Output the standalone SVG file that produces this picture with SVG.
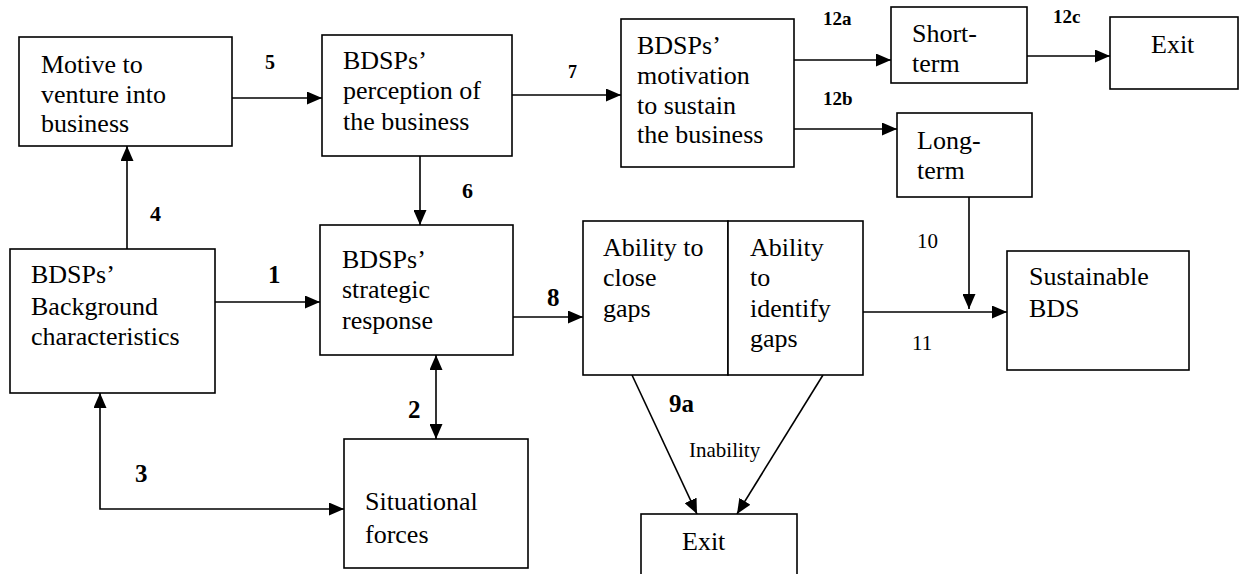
<svg xmlns="http://www.w3.org/2000/svg" width="1241" height="574" viewBox="0 0 1241 574">
  <style>
    .box { fill: #ffffff; stroke: #000000; stroke-width: 1.6; }
    text { font-family: 'Liberation Serif', Tinos, 'Times New Roman', 'DejaVu Serif', serif; fill: #000000; }
    .t { font-size: 26px; }
    .lbl { font-weight: bold; }
    .note { font-size: 21px; }
    .wire { fill: none; stroke: #000000; stroke-width: 1.6; }
    .one { marker-end: url(#head); }
    .two { marker-start: url(#head); marker-end: url(#head); }
  </style>
  <defs>
    <marker id="head" markerUnits="userSpaceOnUse" markerWidth="15" markerHeight="13" refX="15" refY="6.5" orient="auto-start-reverse">
      <path d="M0,0 L15,6.5 L0,13 z" fill="#000000"/>
    </marker>
  </defs>
  <rect width="1241" height="574" fill="#ffffff"/>

  <!-- connectors -->
  <g id="connectors">
    <path class="wire one" d="M232,98 H322"/>
    <path class="wire one" d="M512,95 H621"/>
    <path class="wire one" d="M794,60 H891"/>
    <path class="wire one" d="M794,129 H897"/>
    <path class="wire one" d="M1027,56 H1110"/>
    <path class="wire one" d="M127,249 V146"/>
    <path class="wire one" d="M420,156 V225"/>
    <path class="wire one" d="M215,302 H320"/>
    <path class="wire one" d="M513,317 H583"/>
    <path class="wire one" d="M863,312 H1007"/>
    <path class="wire one" d="M969,197 V309"/>
    <path class="wire two" d="M436,355 V439"/>
    <path class="wire two" d="M100,393 V509 H344"/>
    <path class="wire one" d="M632,375 L697,514"/>
    <path class="wire one" d="M823,375 L737,514"/>
  </g>

  <!-- connector labels -->
  <g id="labels">
    <text class="lbl" x="265" y="69" font-size="20">5</text>
    <text class="lbl" x="568" y="78" font-size="18">7</text>
    <text class="lbl" x="823" y="25" font-size="19">12a</text>
    <text class="lbl" x="823" y="105" font-size="19">12b</text>
    <text class="lbl" x="1053" y="23" font-size="19">12c</text>
    <text class="lbl" x="150" y="221" font-size="22">4</text>
    <text class="lbl" x="462" y="198" font-size="22">6</text>
    <text class="lbl" x="268" y="283" font-size="25">1</text>
    <text class="lbl" x="547" y="306" font-size="25">8</text>
    <text class="lbl" x="408" y="418" font-size="25">2</text>
    <text class="lbl" x="135" y="482" font-size="25">3</text>
    <text class="lbl" x="669" y="412" font-size="25">9a</text>
    <text class="note" x="689" y="457">Inability</text>
    <text class="note" x="917" y="248">10</text>
    <text class="note" x="912" y="350">11</text>
  </g>

  <g id="motive">
    <rect class="box" x="19" y="37" width="213" height="109"/>
    <text class="t" x="41" y="73">Motive to</text>
    <text class="t" x="41" y="103">venture into</text>
    <text class="t" x="41" y="132">business</text>
  </g>

  <g id="perception">
    <rect class="box" x="322" y="35" width="190" height="121"/>
    <text class="t" x="343" y="69">BDSPs’</text>
    <text class="t" x="343" y="99">perception of</text>
    <text class="t" x="343" y="130">the business</text>
  </g>

  <g id="motivation">
    <rect class="box" x="621" y="19" width="173" height="148"/>
    <text class="t" x="637" y="54">BDSPs’</text>
    <text class="t" x="637" y="84">motivation</text>
    <text class="t" x="637" y="114">to sustain</text>
    <text class="t" x="637" y="143">the business</text>
  </g>

  <g id="short-term">
    <rect class="box" x="891" y="7" width="136" height="76"/>
    <text class="t" x="912" y="42">Short-</text>
    <text class="t" x="912" y="72">term</text>
  </g>

  <g id="exit-top">
    <rect class="box" x="1110" y="17" width="128" height="72"/>
    <text class="t" x="1151" y="53">Exit</text>
  </g>

  <g id="long-term">
    <rect class="box" x="897" y="113" width="135" height="84"/>
    <text class="t" x="917" y="149">Long-</text>
    <text class="t" x="917" y="179">term</text>
  </g>

  <g id="background">
    <rect class="box" x="10" y="249" width="205" height="144"/>
    <text class="t" x="31" y="283">BDSPs’</text>
    <text class="t" x="31" y="315">Background</text>
    <text class="t" x="31" y="345">characteristics</text>
  </g>

  <g id="strategic">
    <rect class="box" x="320" y="225" width="193" height="130"/>
    <text class="t" x="342" y="268">BDSPs’</text>
    <text class="t" x="342" y="298">strategic</text>
    <text class="t" x="342" y="329">response</text>
  </g>

  <g id="close-gaps">
    <rect class="box" x="583" y="221" width="145" height="154"/>
    <text class="t" x="603" y="256">Ability to</text>
    <text class="t" x="603" y="286">close</text>
    <text class="t" x="603" y="317">gaps</text>
  </g>

  <g id="identify-gaps">
    <rect class="box" x="728" y="221" width="135" height="154"/>
    <text class="t" x="750" y="256">Ability</text>
    <text class="t" x="750" y="286">to</text>
    <text class="t" x="750" y="317">identify</text>
    <text class="t" x="750" y="347">gaps</text>
  </g>

  <g id="sustainable">
    <rect class="box" x="1007" y="251" width="182" height="119"/>
    <text class="t" x="1029" y="285">Sustainable</text>
    <text class="t" x="1029" y="317">BDS</text>
  </g>

  <g id="situational">
    <rect class="box" x="344" y="439" width="184" height="129"/>
    <text class="t" x="365" y="510">Situational</text>
    <text class="t" x="365" y="543">forces</text>
  </g>

  <g id="exit-bottom">
    <rect class="box" x="641" y="514" width="156" height="70"/>
    <text class="t" x="682" y="550">Exit</text>
  </g>
</svg>
